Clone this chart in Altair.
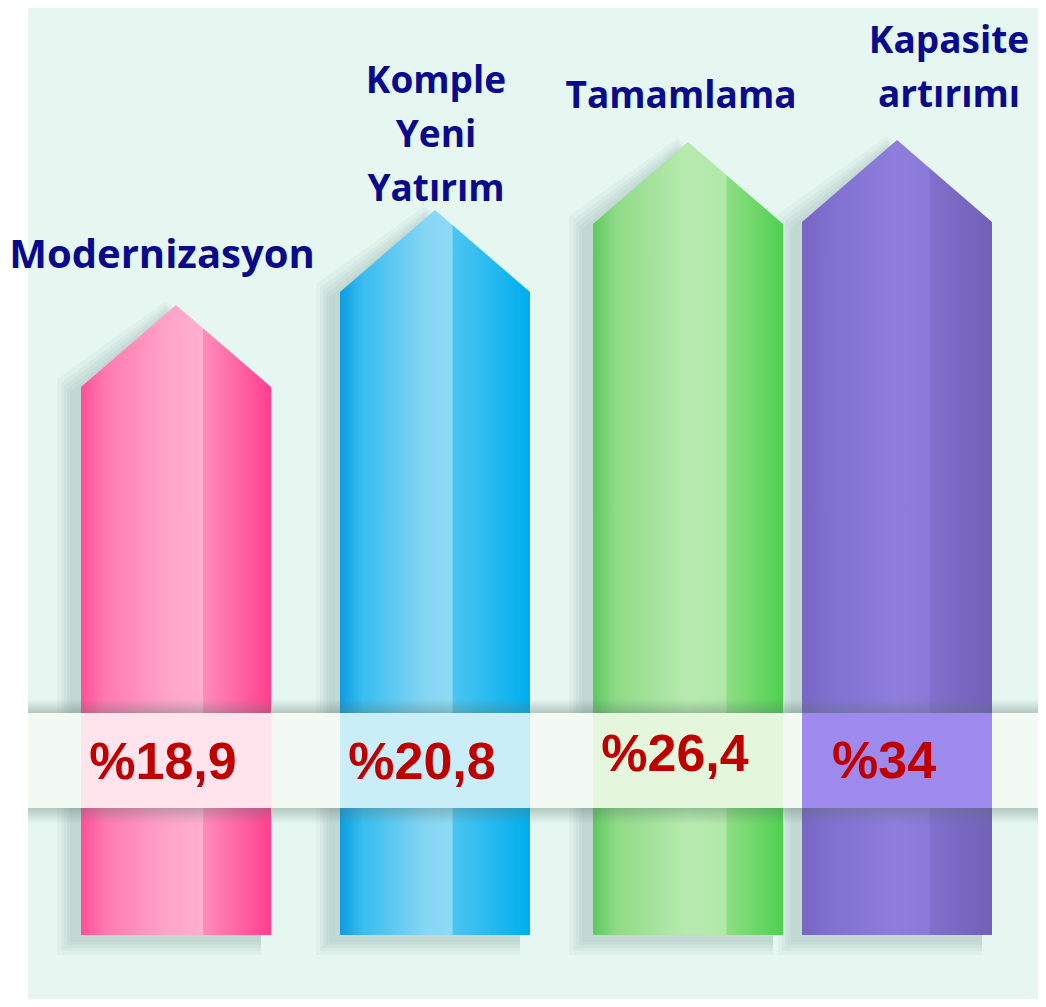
import altair as alt
import pandas as pd

# ---------------- data ----------------
categories = ["Modernizasyon", "Komple\nYeni\nYatırım", "Tamamlama", "Kapasite\nartırımı"]
shares = [18.9, 20.8, 26.4, 34.0]
share_labels = ["%18,9", "%20,8", "%26,4", "%34"]
# drawn arrow height (px above the base)
arrow_level = [630, 725, 793, 795]

# ---------------- layout / style ----------------
W, H = 1030, 991
centers = [176, 435, 688, 897]          # arrow centres (page px)
HALF = 95                                 # half arrow width
TIP = 82                                  # height of the arrow head
label_x = [162, 436, 681, 949]
label_y = [667, 842, 827, 882]           # first-line baseline height above base
label_size = [40, 37, 37, 37]
value_y = [156, 156, 164, 157]
band_tints = ["#ffe3ed", "#c9eef8", "#e4f7dd", "#9d8aec"]
gradients = [
    [(0, "#ff4f97"), (0.12, "#ff78b0"), (0.45, "#ffa3c9"), (0.64, "#ffafd0"),
     (0.645, "#ff8cba"), (1, "#ff3f8e")],
    [(0, "#0c9ce0"), (0.12, "#38bdf0"), (0.45, "#86d6f4"), (0.59, "#8edaf5"),
     (0.595, "#4cc5f2"), (1, "#00adef")],
    [(0, "#5ec75e"), (0.12, "#8fdb87"), (0.5, "#b8eab0"), (0.7, "#b0e8a8"),
     (0.705, "#8ede84"), (1, "#50d050")],
    [(0, "#7766c2"), (0.15, "#8070d0"), (0.5, "#8e7ddc"), (0.67, "#8a79d8"),
     (0.675, "#806fcc"), (1, "#7261b8")],
]
BG = "#e6f7f1"

XS = alt.Scale(domain=[8, 8 + W], nice=False, zero=False)
YS = alt.Scale(domain=[-(H - 927), 927], nice=False, zero=False)


def X(f):
    return alt.X(f, type="quantitative", scale=XS, axis=None)


def Y(f):
    return alt.Y(f, type="quantitative", scale=YS, axis=None)


# arrow outlines
rows = []
for i, (cx, lv) in enumerate(zip(centers, arrow_level)):
    for xx, yy in [(cx - HALF, lv - TIP), (cx, lv), (cx + HALF, lv - TIP)]:
        rows.append({"cat": i, "x": xx, "y": yy, "y0": 0})
arrows = pd.DataFrame(rows)

# soft shadows (left / down)
srows = []
for i, (cx, lv) in enumerate(zip(centers, arrow_level)):
    for s in [1, 4, 7, 10, 14]:
        dx, dy = -10, -6
        for xx, yy in [(cx - HALF - s + dx, lv - TIP + s + dy), (cx + dx, lv + s + dy - 4),
                       (cx + HALF + dx, lv - TIP + dy - 4)]:
            srows.append({"id": f"{i}-{s}", "x": xx, "y": yy, "y0": -s + dy})
shadows = pd.DataFrame(srows)

layers = []

# white strip at the far left
left = pd.DataFrame({"x": [8], "x2": [28], "y": [-(H - 927)], "y2": [927]})
layers.append(alt.Chart(left).mark_rect(color="white").encode(
    x=X("x"), x2="x2", y=Y("y"), y2="y2"))

layers.append(alt.Chart(shadows).mark_area(color="#6d8a82", opacity=0.06, orient="vertical").encode(
    x=X("x"), y=Y("y"), y2="y0", detail="id:N"))

for i in range(4):
    grad = alt.Gradient(
        gradient="linear", x1=0, x2=1, y1=0, y2=0,
        stops=[alt.GradientStop(offset=o, color=c) for o, c in gradients[i]])
    layers.append(alt.Chart(arrows[arrows["cat"] == i]).mark_area(
        color=grad, orient="vertical").encode(x=X("x"), y=Y("y"), y2="y0"))

# band shadows
sh_top = pd.DataFrame({"x": [28], "x2": [8 + W], "y": [236], "y2": [222]})
sh_bot = pd.DataFrame({"x": [28], "x2": [8 + W], "y": [127], "y2": [111]})
g_top = alt.Gradient(gradient="linear", x1=0, x2=0, y1=0, y2=1, stops=[
    alt.GradientStop(offset=0, color="rgba(90,115,108,0)"),
    alt.GradientStop(offset=1, color="rgba(90,115,108,0.36)")])
g_bot = alt.Gradient(gradient="linear", x1=0, x2=0, y1=0, y2=1, stops=[
    alt.GradientStop(offset=0, color="rgba(90,115,108,0.36)"),
    alt.GradientStop(offset=1, color="rgba(90,115,108,0)")])
layers.append(alt.Chart(sh_top).mark_rect(color=g_top).encode(x=X("x"), x2="x2", y=Y("y"), y2="y2"))
layers.append(alt.Chart(sh_bot).mark_rect(color=g_bot).encode(x=X("x"), x2="x2", y=Y("y"), y2="y2"))

# band
band = pd.DataFrame({"x": [28], "x2": [8 + W], "y": [222], "y2": [127]})
layers.append(alt.Chart(band).mark_rect(color="#f3faf3").encode(x=X("x"), x2="x2", y=Y("y"), y2="y2"))
tints = pd.DataFrame({
    "x": [c - HALF for c in centers], "x2": [c + HALF for c in centers],
    "y": [222] * 4, "y2": [127] * 4, "tint": band_tints})
layers.append(alt.Chart(tints).mark_rect().encode(
    x=X("x"), x2="x2", y=Y("y"), y2="y2", color=alt.Color("tint:N", scale=None)))

# value labels
vals = pd.DataFrame({"x": [c - 13 for c in centers], "y": value_y,
                     "label": share_labels, "share": shares})
layers.append(alt.Chart(vals).mark_text(
    font="Liberation Sans", fontWeight="bold", fontSize=52, color="#c00000",
    align="center", baseline="alphabetic").encode(x=X("x"), y=Y("y"), text="label:N"))

# category labels
cats = pd.DataFrame({"x": label_x, "y": label_y, "label": categories, "fs": label_size})
layers.append(alt.Chart(cats).mark_text(
    font="Open Sans", fontWeight="bold", color="#0a0a8e",
    align="center", baseline="alphabetic", lineBreak="\n", lineHeight=54).encode(
    x=X("x"), y=Y("y"), text="label:N", size=alt.Size("fs:Q", scale=None, legend=None)))

chart = alt.layer(*layers).properties(
    width=W, height=H, autosize=alt.AutoSizeParams(type="none"), padding=0,
    background=BG,
).configure_view(stroke=None)

chart.save("out.html", embed_options={"renderer": "svg", "actions": False})
